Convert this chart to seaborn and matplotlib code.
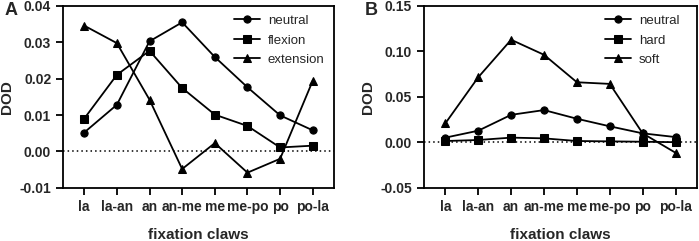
import matplotlib
matplotlib.use("Agg")
import pandas as pd
import seaborn as sns
from matplotlib import pyplot as plt

claws = ["la", "la-an", "an", "an-me", "me", "me-po", "po", "po-la"]

# panel A
neutral = [0.0052, 0.0128, 0.0302, 0.0354, 0.0259, 0.0176, 0.0099, 0.0058]
flexion = [0.0090, 0.0210, 0.0276, 0.0174, 0.0101, 0.0070, 0.0011, 0.0016]
extension = [0.0345, 0.0297, 0.0142, -0.0048, 0.0023, -0.0058, -0.0020, 0.0194]

# panel B
hard = [0.0015, 0.0026, 0.0052, 0.0044, 0.0015, 0.0011, 0.0007, 0.0002]
soft = [0.0209, 0.0714, 0.1125, 0.0960, 0.0659, 0.0641, 0.0099, -0.0114]

yticks_a = [-0.01, 0.00, 0.01, 0.02, 0.03, 0.04]
yticks_b = [-0.05, 0.00, 0.05, 0.10, 0.15]


def long_frame(series):
    rows = []
    for name, vals in series.items():
        for c, v in zip(claws, vals):
            rows.append({"claw": c, "DOD": v, "group": name})
    return pd.DataFrame(rows)


def draw_panel(ax, series, yticks, legend_anchor):
    data = long_frame(series)
    sns.lineplot(data, x="claw", y="DOD", hue="group", style="group",
                 markers=["o", "s", "^"], dashes=False, palette=["black"] * 3,
                 sort=False, errorbar=None, ax=ax, linewidth=1.3,
                 markersize=5.2, markeredgecolor="black")
    ax.axhline(0, color="black", linestyle=(0, (1, 2)), linewidth=1.1, zorder=0)
    ax.set_xlim(-0.65, 7.65)
    ax.set_ylim(yticks[0], yticks[-1])
    ax.set_yticks(yticks)
    ax.set_yticklabels([f"{t:.2f}" for t in yticks], fontweight="bold")
    ax.set_xticks(range(len(claws)))
    ax.set_xticklabels(claws, fontweight="bold")
    ax.set_xlabel("fixation claws", fontweight="bold", fontsize=11, labelpad=10)
    ax.set_ylabel("DOD", fontweight="bold", fontsize=11, labelpad=4)
    ax.tick_params(axis="both", labelsize=10, width=1.3, length=5, color="black")
    for s in ax.spines.values():
        s.set_linewidth(1.3)
        s.set_color("black")
    ax.legend(loc="upper right", bbox_to_anchor=legend_anchor, frameon=False,
              fontsize=9.5, handlelength=2.0, handletextpad=0.6,
              borderaxespad=0.3, labelspacing=0.55, title=None)


sns.set_style("ticks")
plt.rcParams["font.family"] = ["Liberation Sans", "DejaVu Sans"]

fig = plt.figure(figsize=(6.99, 2.41), dpi=100)
ax1 = fig.add_axes([0.0901, 0.22, 0.3877, 0.757])
ax2 = fig.add_axes([0.6066, 0.22, 0.3904, 0.757])

draw_panel(ax1, {"neutral": neutral, "flexion": flexion, "extension": extension},
           yticks_a, (1.0, 1.0))
draw_panel(ax2, {"neutral": neutral, "hard": hard, "soft": soft},
           yticks_b, (0.97, 1.0))

fig.text(0.006, 0.99, "A", fontsize=13, fontweight="bold", va="top", ha="left")
fig.text(0.522, 0.99, "B", fontsize=13, fontweight="bold", va="top", ha="left")

plt.savefig("out.png", dpi=100)
plt.close()
